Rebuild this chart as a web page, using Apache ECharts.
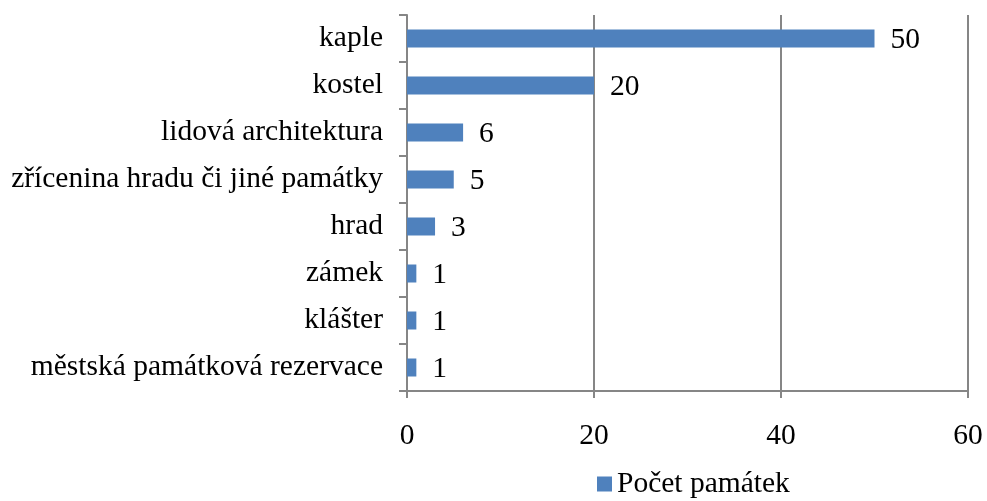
<!DOCTYPE html>
<html>
<head>
<meta charset="utf-8">
<script src="https://cdn.jsdelivr.net/npm/echarts@6/dist/echarts.min.js"></script>
<style>
  html, body { margin: 0; padding: 0; background: #fff; }
  #main { width: 987px; height: 501px; }
</style>
</head>
<body>
<div id="main"></div>
<script>
// categories listed bottom to top (category axis starts at the bottom)
var categories = [
  'městská památková rezervace',
  'klášter',
  'zámek',
  'hrad',
  'zřícenina hradu či jiné památky',
  'lidová architektura',
  'kostel',
  'kaple'
];
var counts = [1, 1, 1, 3, 5, 6, 20, 50];
var seriesName = 'Počet památek';

var font = '"Liberation Serif", "Times New Roman", serif';
var gray = '#868686';
var fs = 29.5;

var myChart = echarts.init(document.getElementById('main'));

var option = {
  animation: false,
  textStyle: { fontFamily: font },
  grid: {
    left: 407,
    right: 19,
    top: 15,
    bottom: 110,
    containLabel: false
  },
  legend: {
    data: [seriesName],
    left: 592,
    top: 464,
    icon: 'rect',
    itemWidth: 15,
    itemHeight: 15,
    itemGap: 7,
    textStyle: { fontFamily: font, fontSize: fs, color: '#000' }
  },
  xAxis: {
    type: 'value',
    min: 0,
    max: 60,
    interval: 20,
    axisLine: { show: true, lineStyle: { color: gray, width: 2 } },
    axisTick: { show: true, length: 7, lineStyle: { color: gray, width: 2 } },
    splitLine: { show: true, lineStyle: { color: gray, width: 2 } },
    axisLabel: { fontFamily: font, fontSize: fs, color: '#000', margin: 30 }
  },
  yAxis: {
    type: 'category',
    data: categories,
    axisLine: { show: true, lineStyle: { color: gray, width: 2 } },
    axisTick: { show: true, length: 8, lineStyle: { color: gray, width: 2 } },
    axisLabel: {
      fontFamily: font,
      fontSize: fs,
      color: '#000',
      margin: 24,
      padding: [6, 0, 0, 0]
    }
  },
  series: [
    {
      name: seriesName,
      type: 'bar',
      data: counts,
      barWidth: 18,
      itemStyle: { color: '#4F81BD' },
      label: {
        show: true,
        position: 'right',
        distance: 16,
        offset: [0, 2],
        fontFamily: font,
        fontSize: fs,
        color: '#000'
      }
    }
  ]
};

myChart.setOption(option);
</script>
</body>
</html>
